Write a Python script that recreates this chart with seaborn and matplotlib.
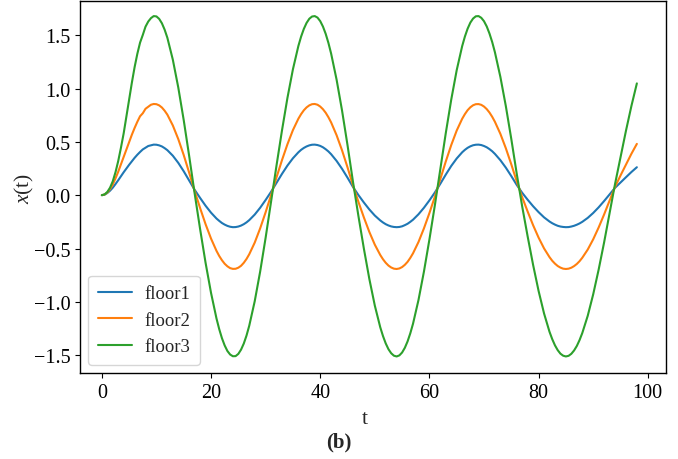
import numpy as np
import pandas as pd
import matplotlib
matplotlib.use("Agg")
import matplotlib.pyplot as plt
import seaborn as sns

# main time samples (unit step)
t = list(range(0, 99))

# displacement of each floor at the unit-step samples
floor1 = [0.000, 0.020, 0.070, 0.140, 0.215, 0.285, 0.350, 0.405, 0.445, 0.468,
          0.473, 0.457, 0.422, 0.370, 0.303, 0.224, 0.138, 0.050, -0.026, -0.099,
          -0.164, -0.219, -0.261, -0.288, -0.300, -0.294, -0.272, -0.234, -0.182, -0.118,
          -0.045, 0.032, 0.116, 0.200, 0.278, 0.346, 0.402, 0.443, 0.467, 0.474,
          0.462, 0.431, 0.384, 0.321, 0.247, 0.164, 0.077, 0.001, -0.069, -0.134,
          -0.191, -0.237, -0.272, -0.293, -0.300, -0.292, -0.268, -0.230, -0.179, -0.118,
          -0.049, 0.025, 0.107, 0.193, 0.274, 0.344, 0.402, 0.444, 0.468, 0.474,
          0.461, 0.432, 0.387, 0.328, 0.258, 0.179, 0.096, 0.022, -0.043, -0.104,
          -0.159, -0.208, -0.247, -0.276, -0.294, -0.300, -0.294, -0.277, -0.250, -0.213,
          -0.167, -0.114, -0.055, 0.007, 0.069, 0.119, 0.168, 0.217, 0.262]

floor2 = [0.000, 0.025, 0.100, 0.220, 0.360, 0.500, 0.630, 0.740, 0.810, 0.848,
          0.853, 0.822, 0.755, 0.654, 0.526, 0.376, 0.210, 0.039, -0.121, -0.272,
          -0.407, -0.522, -0.610, -0.667, -0.691, -0.680, -0.634, -0.554, -0.445, -0.311,
          -0.160, 0.002, 0.168, 0.329, 0.478, 0.610, 0.717, 0.796, 0.842, 0.855,
          0.831, 0.773, 0.682, 0.562, 0.420, 0.261, 0.092, -0.063, -0.209, -0.345,
          -0.464, -0.561, -0.634, -0.678, -0.692, -0.674, -0.625, -0.545, -0.439, -0.311,
          -0.168, -0.014, 0.150, 0.316, 0.470, 0.606, 0.716, 0.797, 0.843, 0.854,
          0.831, 0.775, 0.688, 0.575, 0.440, 0.289, 0.129, -0.020, -0.154, -0.282,
          -0.398, -0.499, -0.581, -0.642, -0.679, -0.692, -0.680, -0.645, -0.587, -0.510,
          -0.414, -0.303, -0.181, -0.051, 0.078, 0.184, 0.287, 0.388, 0.481]

floor3 = [0.000, 0.030, 0.130, 0.320, 0.580, 0.900, 1.200, 1.430, 1.580, 1.660,
          1.676, 1.612, 1.476, 1.271, 1.010, 0.703, 0.366, 0.016, -0.318, -0.634,
          -0.916, -1.156, -1.341, -1.461, -1.510, -1.488, -1.391, -1.224, -0.995, -0.716,
          -0.399, -0.061, 0.280, 0.608, 0.913, 1.180, 1.399, 1.559, 1.654, 1.679,
          1.632, 1.513, 1.327, 1.083, 0.793, 0.469, 0.126, -0.196, -0.502, -0.786,
          -1.035, -1.239, -1.390, -1.482, -1.512, -1.475, -1.371, -1.205, -0.983, -0.716,
          -0.416, -0.094, 0.244, 0.582, 0.896, 1.172, 1.397, 1.561, 1.656, 1.679,
          1.631, 1.516, 1.340, 1.109, 0.835, 0.527, 0.200, -0.107, -0.388, -0.655,
          -0.898, -1.109, -1.281, -1.408, -1.486, -1.512, -1.487, -1.414, -1.293, -1.131,
          -0.930, -0.698, -0.443, -0.171, 0.104, 0.356, 0.603, 0.836, 1.048]

# extra half-step samples around the start and around each peak / trough
t_fine = [0.5, 1.5, 2.5, 3.5, 4.5, 5.5, 6.5, 7.5, 8.5, 9.5, 10.5, 11.5,
          21.5, 22.5, 23.5, 24.5, 25.5, 26.5,
          36.5, 37.5, 38.5, 39.5, 40.5, 41.5,
          51.5, 52.5, 53.5, 54.5, 55.5, 56.5,
          66.5, 67.5, 68.5, 69.5, 70.5, 71.5,
          82.5, 83.5, 84.5, 85.5, 86.5, 87.5]

floor1_fine = [0.005, 0.042, 0.104, 0.178, 0.250, 0.318, 0.379, 0.429, 0.461, 0.474, 0.467, 0.441,
               -0.241, -0.276, -0.296, -0.299, -0.285, -0.255,
               0.425, 0.457, 0.473, 0.470, 0.449, 0.410,
               -0.256, -0.284, -0.298, -0.298, -0.281, -0.250,
               0.425, 0.458, 0.473, 0.470, 0.449, 0.412,
               -0.263, -0.287, -0.298, -0.299, -0.287, -0.265]

floor2_fine = [0.006, 0.057, 0.157, 0.290, 0.430, 0.567, 0.688, 0.768, 0.829, 0.855, 0.842, 0.792,
               -0.570, -0.643, -0.684, -0.690, -0.662, -0.598,
               0.760, 0.823, 0.853, 0.848, 0.806, 0.731,
               -0.601, -0.660, -0.689, -0.687, -0.653, -0.588,
               0.760, 0.824, 0.853, 0.847, 0.807, 0.735,
               -0.615, -0.664, -0.689, -0.689, -0.665, -0.619]

floor3_fine = [0.007, 0.070, 0.215, 0.445, 0.740, 1.055, 1.325, 1.502, 1.628, 1.679, 1.653, 1.552,
               -1.256, -1.409, -1.494, -1.509, -1.448, -1.316,
               1.487, 1.615, 1.675, 1.665, 1.581, 1.428,
               -1.321, -1.444, -1.505, -1.502, -1.431, -1.295,
               1.487, 1.618, 1.677, 1.663, 1.582, 1.436,
               -1.350, -1.453, -1.505, -1.506, -1.456, -1.359]

series_names = ["floor1", "floor2", "floor3"]
palette = ["#1f77b4", "#ff7f0e", "#2ca02c"]

sns.set_style("ticks")
plt.rcParams.update({
    "font.family": ["Liberation Serif", "DejaVu Serif"],
    "mathtext.fontset": "custom",
    "mathtext.rm": "Liberation Serif",
    "mathtext.it": "Liberation Serif:italic",
    "mathtext.bf": "Liberation Serif:bold",
    "axes.edgecolor": "black",
    "axes.linewidth": 1.0,
    "xtick.color": "black",
    "ytick.color": "black",
    "xtick.direction": "out",
    "ytick.direction": "out",
    "xtick.major.size": 3.5,
    "ytick.major.size": 3.5,
    "xtick.major.width": 0.8,
    "ytick.major.width": 0.8,
})

frames = []
for name, coarse, fine in zip(series_names,
                              [floor1, floor2, floor3],
                              [floor1_fine, floor2_fine, floor3_fine]):
    frames.append(pd.DataFrame({"t": t + t_fine, "x": coarse + fine, "floor": name}))
df = pd.concat(frames, ignore_index=True).sort_values(["floor", "t"])

fig = plt.figure(figsize=(6.78, 4.60), dpi=100)
ax = fig.add_axes([0.118, 0.187, 0.864, 0.809])

sns.lineplot(data=df, x="t", y="x", hue="floor", palette=palette,
             linewidth=1.5, ax=ax, sort=True)

ax.set_xlim(-4.0, 103.3)
ax.set_ylim(-1.667, 1.822)
ax.set_xticks([0, 20, 40, 60, 80, 100])
ax.set_yticks([-1.5, -1.0, -0.5, 0.0, 0.5, 1.0, 1.5])
ax.tick_params(labelsize=14.5)
for s in ax.spines.values():
    s.set_visible(True)
    s.set_color("black")

ax.set_xlabel("t", fontsize=15.5)
ax.set_ylabel("$x$(t)", fontsize=15.5)
ax.xaxis.set_label_coords(0.486, -0.121)
ax.xaxis.label.set_verticalalignment("center")
ax.yaxis.set_label_coords(-0.094, 0.5)
ax.yaxis.label.set_verticalalignment("center")

ax.legend(loc="lower left", fontsize=13.5, frameon=True, framealpha=0.8,
          handlelength=1.8, handletextpad=0.7, borderpad=0.5,
          labelspacing=0.5, borderaxespad=0.45)

fig.text(339 / 678, 1 - 442 / 460, "(b)", fontsize=15, fontweight="bold",
         ha="center", va="center")

fig.savefig("out.png", dpi=100, facecolor="white")
